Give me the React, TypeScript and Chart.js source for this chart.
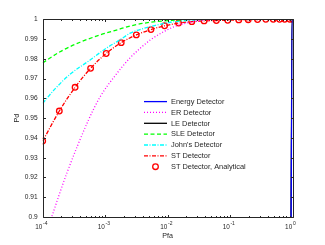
import React, { useEffect, useRef } from "react";
import { Chart, registerables } from "chart.js";
Chart.register(...registerables);

// ---- data (Pfa on x, Pd on y) ----
const energyPfa = [0.93, 0.95, 0.97, 0.985, 1];
const energyPd = [0.8, 0.9, 0.95, 0.99, 1];
const lePfa = [0.93, 0.945, 0.965, 0.98, 1];
const lePd = [0.8, 0.9, 0.95, 0.99, 1];
const erPfa = [1e-4, 1.393e-4, 2.43e-4, 5.4e-4, 8.32e-4, 1.445e-3, 2.52e-3, 3.63e-3, 5.27e-3, 8.63e-3, 0.01416, 0.0231, 0.0403, 0.0843, 1];
const erPd = [0.886, 0.9, 0.9221, 0.949, 0.9608, 0.9715, 0.9806, 0.9853, 0.9895, 0.9937, 0.9968, 0.9985, 0.9996, 1, 1];
const slePfa = [1e-4, 1.897e-4, 3.97e-4, 8.32e-4, 1.74e-3, 2.52e-3, 5.27e-3, 0.01104, 0.0279, 1];
const slePd = [0.978, 0.9836, 0.9884, 0.9921, 0.9951, 0.9966, 0.9985, 0.9994, 1, 1];
const johnPfa = [1e-4, 1.574e-4, 2.74e-4, 5.74e-4, 1e-3, 1.74e-3, 2.52e-3, 4.12e-3, 6.76e-3, 0.01104, 0.0231, 0.0583, 1];
const johnPd = [0.9575, 0.9648, 0.9722, 0.9794, 0.985, 0.9897, 0.993, 0.9954, 0.9971, 0.9985, 0.9995, 1, 1];
const stPfa = [1e-4, 1.845e-4, 3.3e-4, 5.85e-4, 1.038e-3, 1.807e-3, 3.15e-3, 5.41e-3, 8.95e-3, 0.01503, 0.02443, 0.0384, 0.0604, 0.0918, 0.138, 0.1954, 0.2754, 0.374, 0.492, 0.621, 0.75, 0.908, 1];
const stPd = [0.9384, 0.9536, 0.9656, 0.9752, 0.9827, 0.9882, 0.9921, 0.9948, 0.9967, 0.9981, 0.9988, 0.9992, 0.9994, 0.9995, 0.9997, 0.9998, 0.9999, 1, 1, 1, 1, 1, 1];
const stAnaPfa = [1e-4, 1.845e-4, 3.3e-4, 5.85e-4, 1.038e-3, 1.807e-3, 3.15e-3, 5.41e-3, 8.95e-3, 0.01503, 0.02443, 0.0384, 0.0604, 0.0918, 0.138, 0.1954, 0.2754, 0.374, 0.492, 0.621, 0.75, 0.908, 1];
const stAnaPd = [0.9384, 0.9536, 0.9656, 0.9752, 0.9827, 0.9882, 0.9921, 0.9948, 0.9967, 0.9981, 0.9988, 0.9992, 0.9994, 0.9995, 0.9997, 0.9998, 0.9999, 1, 1, 1, 1, 1, 1];

const seriesLabels = [
  "Energy Detector",
  "ER Detector",
  "LE Detector",
  "SLE Detector",
  "John's Detector",
  "ST Detector",
  "ST Detector, Analytical",
];
const xDecades = [-4, -3, -2, -1, 0];
const xLabel = "Pfa";
const yLabel = "Pd";

const FONT = "'Liberation Sans', Arial, Helvetica, sans-serif";
const AXIS_COLOR = "#262626";

const pts = (xs: number[], ys: number[]) => xs.map((x, i) => ({ x, y: ys[i] }));

const decorPlugin = {
  id: "matlabDecor",
  afterDatasetsDraw(chart: any) {
    const { ctx, chartArea: a, scales } = chart;
    const xs = scales.x;
    const ys = scales.y;
    const L = Math.round(a.left) + 0.5;
    const R = Math.round(a.right) + 0.5;
    const T = Math.round(a.top) + 0.5;
    const B = Math.round(a.bottom) + 0.5;
    ctx.save();
    ctx.lineWidth = 1;
    ctx.setLineDash([]);
    // frame
    ctx.strokeStyle = AXIS_COLOR;
    ctx.beginPath();
    ctx.moveTo(L, T);
    ctx.lineTo(R, T);
    ctx.lineTo(R, B);
    ctx.lineTo(L, B);
    ctx.closePath();
    ctx.stroke();
    // y ticks (inward, both sides)
    ctx.beginPath();
    ys.ticks.forEach((t: any) => {
      const y = Math.round(ys.getPixelForValue(t.value)) + 0.5;
      ctx.moveTo(L, y);
      ctx.lineTo(L + 2.5, y);
      ctx.moveTo(R, y);
      ctx.lineTo(R - 2.5, y);
    });
    // x ticks (log: majors + minors)
    xDecades.forEach((e) => {
      for (let m = 1; m <= 9; m++) {
        const v = m * Math.pow(10, e);
        if (v > 1.0000001) continue;
        const x = Math.round(xs.getPixelForValue(v)) + 0.5;
        const len = m === 1 ? 2.5 : 1.5;
        ctx.moveTo(x, B);
        ctx.lineTo(x, B - len);
        ctx.moveTo(x, T);
        ctx.lineTo(x, T + len);
      }
    });
    ctx.stroke();
    // x tick labels 10^e
    ctx.fillStyle = AXIS_COLOR;
    ctx.textBaseline = "alphabetic";
    xDecades.forEach((e) => {
      const x = xs.getPixelForValue(Math.pow(10, e));
      ctx.font = `6.4px ${FONT}`;
      ctx.textAlign = "right";
      ctx.fillText("10", x - 0.3, 229);
      ctx.font = `5px ${FONT}`;
      ctx.textAlign = "left";
      ctx.fillText(String(e), x + 0.4, 225);
    });
    ctx.restore();
  },
  afterDraw(chart: any) {
    const { ctx } = chart;
    const ds = chart.data.datasets;
    ctx.save();
    const x0 = 144;
    const x1 = 167;
    const tx = 171;
    const y0 = 101.6;
    const step = 10.85;
    ds.forEach((d: any, i: number) => {
      const y = y0 + i * step;
      if (d.showLine === false) {
        ctx.setLineDash([]);
        ctx.lineWidth = d.pointBorderWidth;
        ctx.strokeStyle = d.pointBorderColor;
        ctx.beginPath();
        ctx.arc((x0 + x1) / 2, y, d.pointRadius, 0, Math.PI * 2);
        ctx.stroke();
      } else {
        ctx.setLineDash(d.borderDash || []);
        ctx.lineWidth = d.borderWidth;
        ctx.strokeStyle = d.borderColor;
        ctx.beginPath();
        ctx.moveTo(x0, y);
        ctx.lineTo(x1, y);
        ctx.stroke();
      }
      ctx.setLineDash([]);
      ctx.fillStyle = AXIS_COLOR;
      ctx.font = `7.4px ${FONT}`;
      ctx.textAlign = "left";
      ctx.textBaseline = "middle";
      ctx.fillText(d.label, tx, y + 0.3);
    });
    ctx.restore();
  },
};

export default function App() {
  const ref = useRef<HTMLCanvasElement | null>(null);
  useEffect(() => {
    if (!ref.current) return;
    const lineBase = {
      pointRadius: 0,
      pointHoverRadius: 0,
      fill: false,
      borderWidth: 1.3,
      cubicInterpolationMode: "monotone" as const,
    };
    const chart = new Chart(ref.current, {
      type: "line",
      data: {
        datasets: [
          { ...lineBase, label: seriesLabels[0], data: pts(energyPfa, energyPd), borderColor: "#0000ff", borderDash: [] },
          { ...lineBase, label: seriesLabels[1], data: pts(erPfa, erPd), borderColor: "#ff00ff", borderDash: [1, 2] },
          { ...lineBase, label: seriesLabels[2], data: pts(lePfa, lePd), borderColor: "#000000", borderDash: [] },
          { ...lineBase, label: seriesLabels[3], data: pts(slePfa, slePd), borderColor: "#00ff00", borderDash: [4, 2.5] },
          { ...lineBase, label: seriesLabels[4], data: pts(johnPfa, johnPd), borderColor: "#00ffff", borderDash: [4, 1.5, 1, 1.5] },
          { ...lineBase, label: seriesLabels[5], data: pts(stPfa, stPd), borderColor: "#ff0000", borderDash: [4, 1.5, 1, 1.5] },
          {
            label: seriesLabels[6],
            data: pts(stAnaPfa, stAnaPd),
            showLine: false,
            pointRadius: 2.8,
            pointHoverRadius: 2.8,
            pointBorderWidth: 1.3,
            pointBorderColor: "#ff0000",
            pointBackgroundColor: "rgba(0,0,0,0)",
            borderColor: "#ff0000",
            backgroundColor: "rgba(0,0,0,0)",
          },
        ] as any,
      },
      options: {
        animation: false,
        responsive: false,
        devicePixelRatio: 1,
        events: [],
        layout: { padding: { left: 0, right: 32.5, top: 19.3, bottom: 0 } },
        plugins: { legend: { display: false }, tooltip: { enabled: false } },
        scales: {
          x: {
            type: "logarithmic",
            min: 1e-4,
            max: 1,
            grid: { display: false, drawTicks: false },
            border: { display: false },
            ticks: { display: false },
            title: {
              display: true,
              text: xLabel,
              color: AXIS_COLOR,
              font: { family: FONT, size: 7.1 },
              padding: { top: 0, bottom: 5 },
            },
            afterFit: (s: any) => {
              s.height = 28;
            },
          },
          y: {
            type: "linear",
            min: 0.9,
            max: 1,
            grid: { display: false, drawTicks: false },
            border: { display: false },
            ticks: {
              stepSize: 0.01,
              color: AXIS_COLOR,
              font: { family: FONT, size: 6.6 },
              padding: 5,
              callback: (v: any) => String(+Number(v).toFixed(2)),
            },
            title: {
              display: true,
              text: yLabel,
              color: AXIS_COLOR,
              font: { family: FONT, size: 7.2 },
              padding: { top: 13, bottom: 0 },
            },
            afterFit: (s: any) => {
              s.width = 42.7;
            },
          },
        },
      } as any,
      plugins: [decorPlugin],
    });
    return () => chart.destroy();
  }, []);
  return (
    <div style={{ position: "absolute", left: 0, top: 0, width: 325, height: 245, background: "#fff" }}>
      <canvas ref={ref} width={325} height={245} style={{ display: "block" }} />
    </div>
  );
}
